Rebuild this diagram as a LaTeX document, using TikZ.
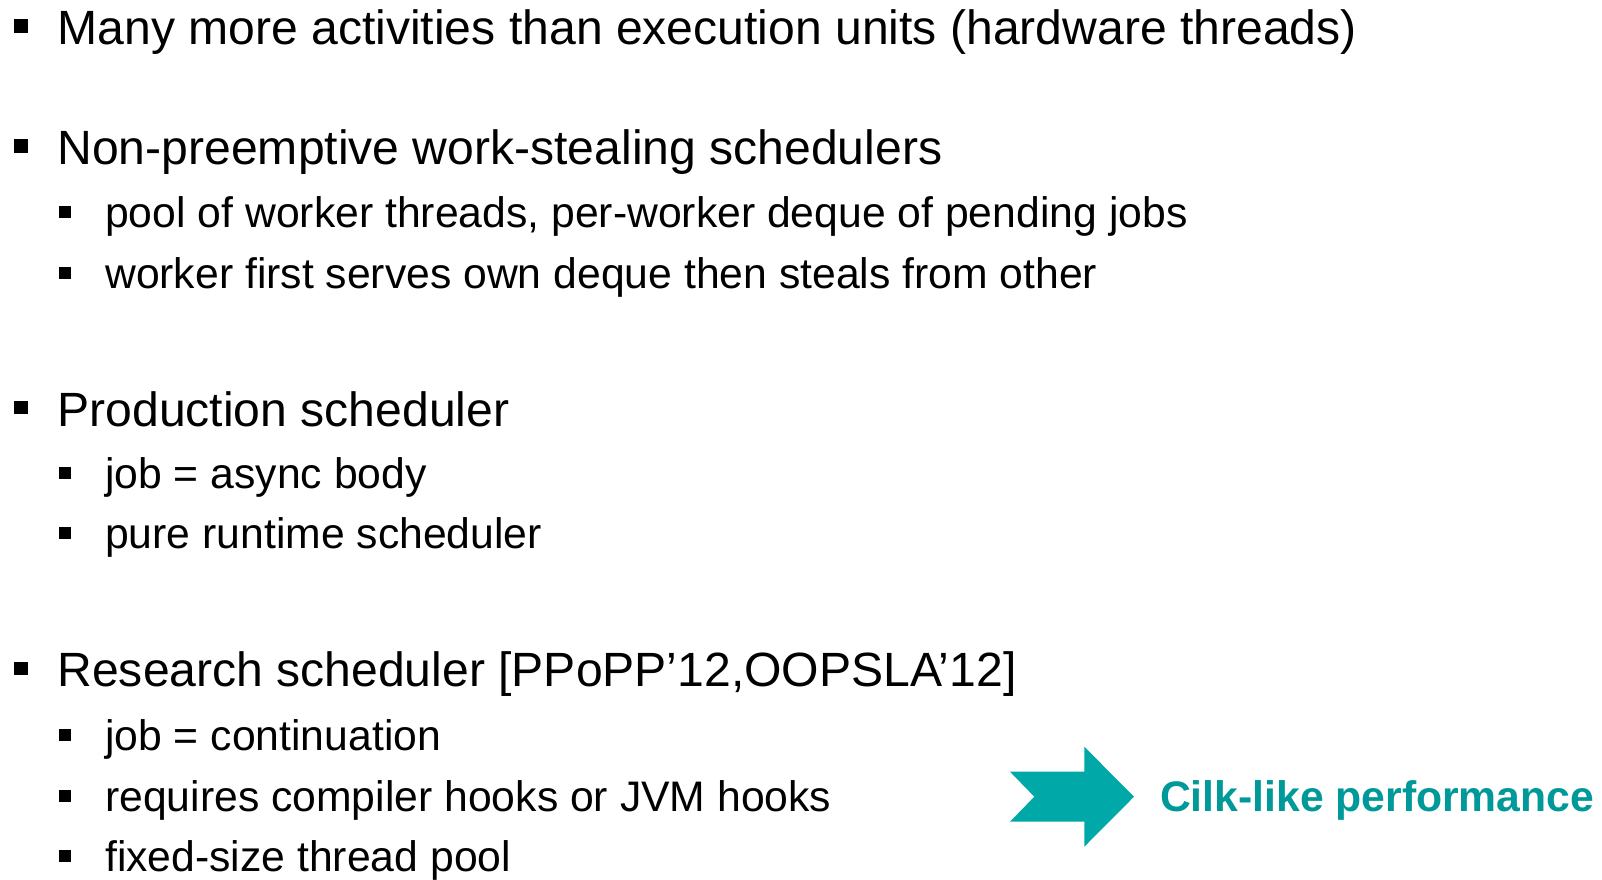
\documentclass[tikz,border=0pt]{standalone}
\usepackage{fontspec}
\setmainfont{Liberation Sans}
\definecolor{arrowteal}{HTML}{00A8A8}
\definecolor{textteal}{HTML}{009999}
\begin{document}
\begin{tikzpicture}[x=1bp,y=-1bp,
  lvlone/.style={anchor=base west, inner sep=0pt, font=\fontsize{48.1bp}{50bp}\selectfont},
  lvltwo/.style={anchor=base west, inner sep=0pt, font=\fontsize{42.7bp}{45bp}\selectfont},
  bulone/.style={fill=black, inner sep=0pt, minimum size=13.5bp},
  bultwo/.style={fill=black, inner sep=0pt, minimum size=12bp},
  punch/.style={anchor=base west, inner sep=0pt, text=textteal,
    font=\bfseries\fontsize{42.7bp}{45bp}\selectfont},
]
\useasboundingbox (0,0) rectangle (1602,879);

% first-level items
\node[bulone] (b1) at (21,26.0) {};
\node[lvlone] (t1) at (57.3,44.3) {Many more activities than execution units (hardware threads)};
\node[bulone] (b2) at (21,146.0) {};
\node[lvlone] (t2) at (57.3,164.3) {Non-preemptive work-stealing schedulers};
\node[bulone] (b3) at (21,407.7) {};
\node[lvlone] (t3) at (57.3,426.0) {Production scheduler};
\node[bulone] (b4) at (21,668.4) {};
\node[lvlone] (t4) at (57.3,686.7) {Research scheduler [PPoPP’12,OOPSLA’12]};

% second-level items
\node[bultwo] (s1b) at (65,211.9) {};
\node[lvltwo] (s1) at (105,227.3) {pool of worker threads, per-worker deque of pending jobs};
\node[bultwo] (s2b) at (65,272.9) {};
\node[lvltwo] (s2) at (105,288.3) {worker first serves own deque then steals from other};
\node[bultwo] (s3b) at (65,472.9) {};
\node[lvltwo] (s3) at (105,488.3) {job = async body};
\node[bultwo] (s4b) at (65,533.3) {};
\node[lvltwo] (s4) at (105,548.7) {pure runtime scheduler};
\node[bultwo] (s5b) at (65,734.6) {};
\node[lvltwo] (s5) at (105,750.0) {job = continuation};
\node[bultwo] (s6b) at (65,795.6) {};
\node[lvltwo] (s6) at (105,811.0) {requires compiler hooks or JVM hooks};
\node[bultwo] (s7b) at (65,856.3) {};
\node[lvltwo] (s7) at (105,871.7) {fixed-size thread pool};

% notched arrow and conclusion
\fill[arrowteal] (1010,771.7) -- (1084.3,771.7) -- (1084.3,746.7) -- (1134,796.7)
  -- (1084.3,846.7) -- (1084.3,821.7) -- (1010,821.7) -- (1034.3,796.7) -- cycle;
\node[punch] (res) at (1159.8,811.5) {Cilk-like performance};
\end{tikzpicture}
\end{document}
